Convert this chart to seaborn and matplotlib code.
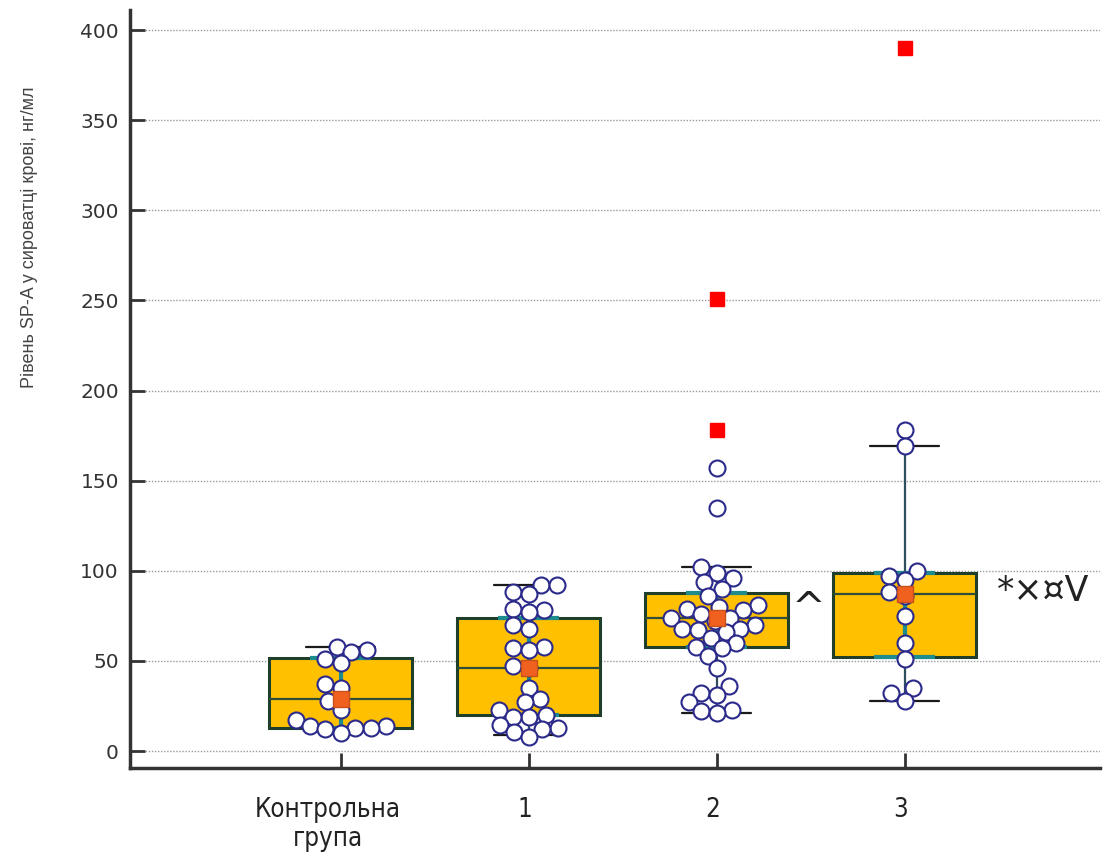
import matplotlib
matplotlib.use("Agg")
import matplotlib.pyplot as plt
from matplotlib.collections import PathCollection
from matplotlib.transforms import ScaledTranslation
import numpy as np
import pandas as pd
import seaborn as sns

# ---------------- data ----------------
groups = ["Контрольна\nгрупа", "1", "2", "3"]

control = [58, 56, 55, 51, 49, 37, 35, 28, 23, 17, 14, 14, 13, 13, 12, 10]
group1 = [92, 92, 88, 87, 79, 78, 77, 70, 68, 58, 57, 56, 47, 46, 35, 29, 27,
          23, 20, 19, 19, 14.5, 13, 12, 10.5, 8]
group2 = [157, 135, 102, 99, 96, 94, 90, 86, 81, 80, 79, 78, 76, 74, 74, 72, 70,
          68, 68, 67, 66, 63, 60, 58, 57, 53, 46, 36, 32, 31, 27, 23, 22, 21]
group3 = [178, 169, 100, 97, 95, 88, 86, 75, 60, 51, 35, 32, 28]

q1 = [13, 20, 58, 52]
median = [29, 46, 74, 87]
q3 = [51.5, 74, 87.5, 99]
whisker_low = [11, 9, 21, 28]
whisker_high = [58, 92, 102, 169]
means = [29, 46, 74, 87]
outliers = [[], [], [251, 178], [390]]

annot_labels = ["^", "*×¤V"]
annot_groups = [2, 3]
annot_values = [72, 89]

yticks = [0, 50, 100, 150, 200, 250, 300, 350, 400]
ylabel = "Рівень SP-A у сироватці крові, нг/мл"

# ---------------- figure ----------------
sns.set_theme(style="white")
plt.rcParams["font.family"] = ["Liberation Sans", "DejaVu Sans"]

fig = plt.figure(figsize=(11.15, 8.61), dpi=100)
ax = fig.add_axes([0.1166, 0.108, 0.870, 0.880])

df = pd.DataFrame({
    "group": sum([[g] * len(v) for g, v in zip(groups, [control, group1, group2, group3])], []),
    "value": control + group1 + group2 + group3,
})

positions = np.arange(len(groups))
stats = []
for i in range(len(groups)):
    stats.append(dict(med=median[i], q1=q1[i], q3=q3[i], whislo=whisker_low[i],
                      whishi=whisker_high[i], mean=means[i], fliers=outliers[i]))

ax.bxp(stats, positions=positions, widths=0.76, patch_artist=True,
       showmeans=False, showfliers=True, capwidths=0.37,
       boxprops=dict(facecolor="#FFC000", edgecolor="#1F3F2A", linewidth=2.2),
       medianprops=dict(color="#2E4F36", linewidth=1.6),
       whiskerprops=dict(color="#2F4F5F", linewidth=1.6),
       capprops=dict(color="#1A1A1A", linewidth=1.6),
       flierprops=dict(marker="s", markerfacecolor="#FF0000", markeredgecolor="#FF0000",
                       markersize=10.5),
       zorder=2)

# teal inner interval lines
ax.vlines(positions, q1, q3, color="#1E8C8C", linewidth=3, zorder=3)
ax.hlines(q1, positions - 0.16, positions + 0.16, color="#1E8C8C", linewidth=3, zorder=3)
ax.hlines(q3, positions - 0.16, positions + 0.16, color="#1E8C8C", linewidth=3, zorder=3)

n_before = len(ax.collections)
sns.swarmplot(data=df, x="group", y="value", order=groups, ax=ax, size=9.2,
              color="white", edgecolor="#2B2A8A", linewidth=1.5, warn_thresh=1,
              zorder=4)

ax.plot(positions, means, linestyle="none", marker="s", markersize=11,
        markerfacecolor="#F0601E", markeredgecolor="#C8501A", markeredgewidth=1, zorder=6)

ax.text(annot_groups[0] + 0.40, annot_values[0], annot_labels[0], fontsize=29,
        ha="left", va="baseline", color="#222222", family=["DejaVu Sans"])
ax.text(annot_groups[1] + 0.49, annot_values[1], annot_labels[1], fontsize=25,
        ha="left", va="center", color="#222222", family=["DejaVu Sans"])

ax.set_xlim(-1.12, 4.04)
ax.set_ylim(-9.4, 411)
ax.set_yticks(yticks)
ax.set_xticks(positions)
ax.set_xticklabels(groups, family=["DejaVu Sans"], fontstretch="condensed",
                   fontsize=18.5, color="#222222", linespacing=1.15)
ax.set_yticklabels([str(t) for t in yticks], fontsize=14.5, color="#333333",
                   family=["DejaVu Sans"])
ax.set_xlabel("")
ax.set_ylabel(ylabel, fontsize=13, color="#444444")
ax.yaxis.set_label_coords(-0.095, 0.70)

ax.yaxis.grid(True, linestyle=(0, (1, 1.2)), color="#9A9A9A", linewidth=1)
ax.xaxis.grid(False)
ax.set_axisbelow(True)

for s in ["top", "right"]:
    ax.spines[s].set_visible(False)
for s in ["left", "bottom"]:
    ax.spines[s].set_color("#333333")
    ax.spines[s].set_linewidth(2.5)

ax.tick_params(axis="y", direction="in", length=11, width=2, color="#333333", pad=8, left=True)
ax.tick_params(axis="x", direction="in", length=11, width=2, color="#333333", pad=21, bottom=True)

shifts = [-13, -4, -4, -4]
for lab, dx in zip(ax.get_xticklabels(), shifts):
    lab.set_transform(lab.get_transform() + ScaledTranslation(dx / 100, 0, fig.dpi_scale_trans))

# compute compact swarm layout, then enlarge markers so they overlap like the reference
fig.canvas.draw()
for coll in ax.collections[n_before:]:
    if isinstance(coll, PathCollection):
        if "draw" in coll.__dict__:
            del coll.__dict__["draw"]
        coll.set_sizes([11.5 ** 2])

fig.savefig("out.png", dpi=100, facecolor="white")
